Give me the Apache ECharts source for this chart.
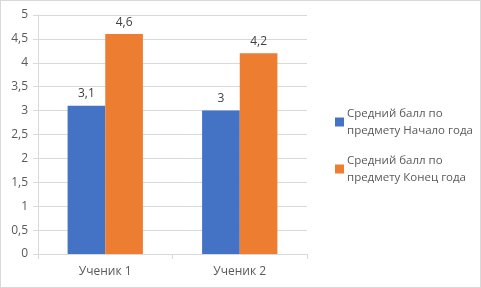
<!DOCTYPE html>
<html>
<head>
<meta charset="utf-8">
<script src="https://cdn.jsdelivr.net/npm/echarts@6/dist/echarts.min.js"></script>
<style>
  html, body { margin: 0; padding: 0; background: #fff; }
  #chart { width: 481px; height: 288px; box-sizing: border-box; border: 1px solid #d9d9d9; }
</style>
</head>
<body>
<div id="chart"></div>
<script>
  const categories = ['Ученик 1', 'Ученик 2'];
  const startValues = [3.1, 3.0];
  const endValues = [4.6, 4.2];
  const seriesNames = ['Средний балл по\nпредмету Начало года', 'Средний балл по\nпредмету Конец года'];

  const comma = v => String(v).replace('.', ',');
  const chart = echarts.init(document.getElementById('chart'));
  chart.setOption({
    animation: false,
    textStyle: { fontFamily: 'Open Sans, Liberation Sans, sans-serif' },
    grid: { left: 37, right: 173, top: 14, bottom: 33 },
    legend: {
      orient: 'vertical',
      left: 329,
      top: 99,
      itemWidth: 9,
      itemHeight: 9,
      itemGap: 13,
      icon: 'rect',
      textStyle: { color: '#595959', fontSize: 11.5, lineHeight: 17, padding: [0, 0, 0, -2] },
      data: seriesNames
    },
    xAxis: {
      type: 'category',
      data: categories,
      axisLine: { lineStyle: { color: '#d9d9d9' } },
      axisTick: { show: true, length: 5, lineStyle: { color: '#d9d9d9' } },
      axisLabel: { color: '#595959', fontSize: 12, margin: 12 }
    },
    yAxis: {
      type: 'value',
      min: 0,
      max: 5,
      interval: 0.5,
      axisLine: { show: true, lineStyle: { color: '#d9d9d9' } },
      axisTick: { show: true, length: 5, lineStyle: { color: '#d9d9d9' } },
      splitLine: { lineStyle: { color: '#d9d9d9' } },
      axisLabel: { color: '#595959', fontSize: 12, margin: 10, formatter: comma }
    },
    series: [{
      name: seriesNames[0],
      type: 'bar',
      data: startValues,
      barWidth: '28%',
      barGap: '0%',
      itemStyle: { color: '#4472c4' },
      label: { show: true, position: 'top', distance: 6, color: '#404040', fontSize: 12, formatter: p => comma(p.value) }
    }, {
      name: seriesNames[1],
      type: 'bar',
      data: endValues,
      barWidth: '28%',
      itemStyle: { color: '#ed7d31' },
      label: { show: true, position: 'top', distance: 6, color: '#404040', fontSize: 12, formatter: p => comma(p.value) }
    }]
  });
</script>
</body>
</html>
